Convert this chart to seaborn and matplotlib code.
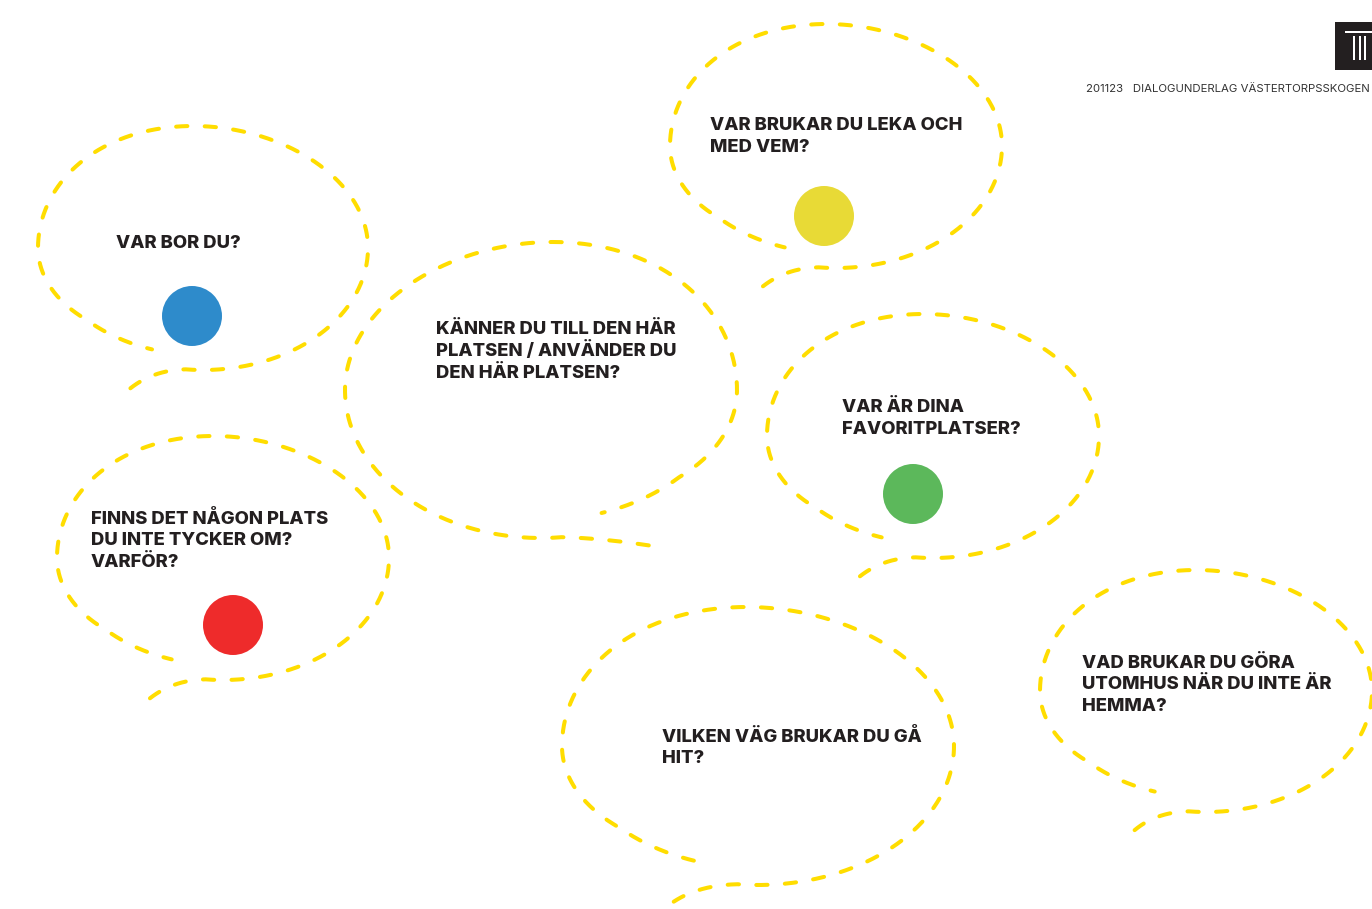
import numpy as np
import pandas as pd
import matplotlib.pyplot as plt
import seaborn as sns
from matplotlib.patches import Rectangle

# Frågorna i pratbubblorna
questions = [
    "VAR BOR DU?",
    "KÄNNER DU TILL DEN HÄR\nPLATSEN / ANVÄNDER DU\nDEN HÄR PLATSEN?",
    "FINNS DET NÅGON PLATS\nDU INTE TYCKER OM?\nVARFÖR?",
    "VAR BRUKAR DU LEKA OCH\nMED VEM?",
    "VAR ÄR DINA\nFAVORITPLATSER?",
    "VILKEN VÄG BRUKAR DU GÅ\nHIT?",
    "VAD BRUKAR DU GÖRA\nUTOMHUS NÄR DU INTE ÄR\nHEMMA?",
]
dot_colors = ["#2E8BCB", None, "#EE2B2B", "#E8DA36", "#5CB85B", None, None]
header = "201123   DIALOGUNDERLAG VÄSTERTORPSSKOGEN"

# Layout (pixlar): centrum, halvaxlar, svansens sida och spets (relativt)
bubble_geom = [
    (203, 248, 165, 122, 1, (-0.44, 1.15)),
    (541, 390, 196, 148, -1, (-0.55, 1.05)),
    (223, 558, 166, 122, 1, (-0.44, 1.15)),
    (836, 146, 166, 122, 1, (-0.44, 1.15)),
    (933, 436, 166, 122, 1, (-0.44, 1.15)),
    (758, 746, 196, 139, 1, (-0.43, 1.12)),
    (1206, 691, 166, 121, 1, (-0.43, 1.15)),
]
text_pos = [(116, 241), (436, 328), (91, 517), (710, 124), (842, 406), (662, 735), (1082, 661)]
dot_pos = [(192, 316), None, (233, 625), (824, 216), (913, 494), None, None]

YELLOW = "#FFDD00"
INK = "#231F20"


def bubble_path(cx, cy, a, b, side, tip):
    """Öppen ellips med svans nere till vänster (side=1) eller höger (side=-1)"""
    deg = np.linspace(96, -252, 600)
    t = np.radians(deg)
    ex = np.cos(t)
    ey = np.sin(t)
    # toppen lutar lite åt svanssidan (äggform)
    ex = ex - 0.06 * np.clip(-ey, 0, 1) ** 2
    # slutet går lite inåt, som en handritad spiral
    ey = ey - np.clip((-180 - deg) / 45, 0, 1) * 0.12
    # svansen: kvadratisk bezier från spetsen in i ellipsen
    s = np.linspace(0, 1, 60)[:, None]
    p0 = np.array(tip)
    p1 = np.array([-0.30, 1.0])
    p2 = np.array([ex[0], ey[0]])
    tail = (1 - s) ** 2 * p0 + 2 * (1 - s) * s * p1 + s ** 2 * p2
    px = np.concatenate([tail[:, 0], ex[1:]])
    py = np.concatenate([tail[:, 1], ey[1:]])
    return cx + side * a * px, cy + b * py


fig = plt.figure(figsize=(13.72, 9.09), dpi=100)
ax = fig.add_axes([0, 0, 1, 1])
sns.set_style("white")
plt.rcParams['font.family'] = ['Inter', 'DejaVu Sans']

for (cx, cy, a, b, side, tip) in bubble_geom:
    x, y = bubble_path(cx, cy, a, b, side, tip)
    ax.plot(x, y, color=YELLOW, lw=2.9, linestyle=(0, (2.8, 4.3)),
            dash_capstyle='round', solid_capstyle='round')

# prickarna
dots = pd.DataFrame([(p[0], p[1], c) for p, c in zip(dot_pos, dot_colors) if c],
                    columns=['x', 'y', 'color'])
sns.scatterplot(data=dots, x='x', y='y', hue='color', palette=dict(zip(dots.color, dots.color)),
                s=1866, linewidth=0, legend=False, ax=ax, zorder=3)

# frågetexterna, rad för rad
for q, (tx, ty) in zip(questions, text_pos):
    for i, line in enumerate(q.split("\n")):
        ax.text(tx, ty + 6.5 + i * 21.8, line, fontsize=13.3, fontweight='heavy',
                color=INK, ha='left', va='baseline')

# sidhuvud och logga
ax.text(1086, 92, header, fontsize=8.2, color="#333333", ha='left', va='baseline', clip_on=True)
ax.add_patch(Rectangle((1335, 22), 45, 48, color="#231F20", lw=0))
ax.add_patch(Rectangle((1345, 30.5), 30, 2.5, color="white", lw=0))
for bx in (1353, 1358.5, 1364):
    ax.add_patch(Rectangle((bx, 36), 2, 24, color="white", lw=0))

ax.set_xlim(0, 1372)
ax.set_ylim(909, 0)
ax.axis('off')
fig.savefig("out.png", dpi=100, facecolor="white")
